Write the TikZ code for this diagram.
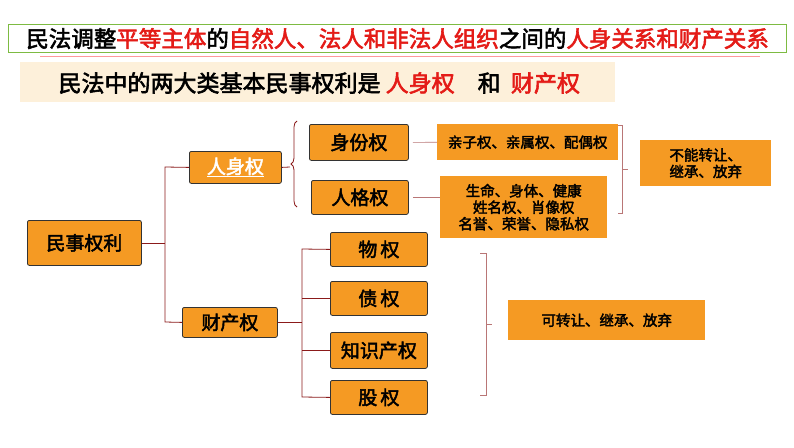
\documentclass[tikz,border=0pt]{standalone}
\usepackage{fontspec}
\setmainfont{Liberation Sans}
\newfontfamily\cjk{Noto Sans CJK SC}[AutoFakeBold=2.5]
\usetikzlibrary{positioning,decorations.pathreplacing}
\definecolor{orng}{HTML}{F59A23}
\definecolor{dred}{HTML}{8B1A1A}
\definecolor{peach}{HTML}{FDF0DA}
\definecolor{grn}{HTML}{7DBB42}
\definecolor{hred}{HTML}{E41B17}
\begin{document}
\begin{tikzpicture}[x=1pt,y=-1pt,
  kind/.style={draw=black!80,thick,fill=orng,rounded corners=2pt,font=\cjk\bfseries\fontsize{19}{19}\selectfont,anchor=north west,inner sep=0pt},
  note/.style={fill=orng,font=\cjk\bfseries\fontsize{14.5}{16.5}\selectfont,anchor=north west,inner sep=0pt,align=center},
  edge/.style={dred,thick},
  thin/.style={dred!60,semithick}]
\useasboundingbox (0,0) rectangle (794,447);
% headings
\node(title)[draw=grn,very thick,fill=white,anchor=north west,minimum width=778pt,minimum height=28pt,inner sep=0pt,font=\cjk\bfseries\fontsize{22.5}{23}\selectfont] at (8,24)
  {民法调整\textcolor{hred}{平等主体}的\textcolor{hred}{自然人、法人和非法人组织}之间的\textcolor{hred}{人身关系和财产关系}};
\draw[red!40,thick] (40,56) -- (760,56);
\node(sub)[fill=peach,anchor=north west,minimum width=595pt,minimum height=40pt,inner sep=0pt] at (20,62) {};
\node[anchor=west,font=\cjk\bfseries\fontsize{23}{24}\selectfont] at (55,83)
  {民法中的两大类基本民事权利是 \textcolor{hred}{人身权}\quad 和 \ \textcolor{hred}{财产权}};
% boxes
\node(root)[kind,minimum width=114pt,minimum height=45pt] at (27,220) {民事权利};
\node(person)[kind,minimum width=92pt,minimum height=32pt,text=white] at (189,151) {\underline{人身权}};
\node(prop)[kind,minimum width=95pt,minimum height=30pt] at (182,307) {财产权};
\node(iden)[kind,minimum width=99pt,minimum height=36pt] at (309,124) {身份权};
\node(pers)[kind,minimum width=97pt,minimum height=34pt] at (311,180) {人格权};
\node(wu)[kind,minimum width=97pt,minimum height=34pt] at (330,232) {物\,权};
\node(zhai)[kind,minimum width=97pt,minimum height=34pt] at (330,281) {债\,权};
\node(zhi)[kind,minimum width=97pt,minimum height=36pt] at (330,332) {知识产权};
\node(gu)[kind,minimum width=97pt,minimum height=34pt] at (330,380) {股\,权};
\node(kin)[note,minimum width=181pt,minimum height=36pt] at (437,124) {亲子权、亲属权、配偶权};
\node(life)[note,minimum width=167pt,minimum height=62pt] at (440,176) {生命、身体、健康\\姓名权、肖像权\\名誉、荣誉、隐私权};
\node(no)[note,minimum width=131pt,minimum height=46pt] at (640,140) {不能转让、\\继承、放弃};
\node(yes)[note,minimum width=197pt,minimum height=40pt] at (508,300) {可转让、继承、放弃};
% tree
\coordinate(r1) at (165,167); \coordinate(r2) at (165,322);
\draw[edge] (root.east) -- (root.east -| r1);
\draw[edge] (person.west) -- (r1) -- (r2) -- (prop.west);
\draw[edge,decorate,decoration={brace,amplitude=6pt,mirror}] (297,121) -- (297,207);
\draw[edge] (person.east) -- (290,167);
\coordinate(p1) at (302,249); \coordinate(p2) at (302,397);
\draw[edge] (prop.east) -- (prop.east -| p1);
\draw[edge] (wu.west) -- (p1) -- (p2) -- (gu.west);
\draw[edge] (zhai.west) -- (zhai.west -| p1);
\draw[edge] (zhi.west) -- (zhi.west -| p1);
\draw[thin] (iden.east) ++(4,0) -- (kin.west);
\draw[thin] (pers.east) ++(4,0) -- (life.west |- pers.east);
\draw[thin] (618,125) -- (622,125) -- (622,213) -- (618,213) (622,169) -- (628,169);
\draw[thin] (480,253) -- (486,253) -- (486,395) -- (480,395) (486,324) -- (492,324);
\end{tikzpicture}
\end{document}
